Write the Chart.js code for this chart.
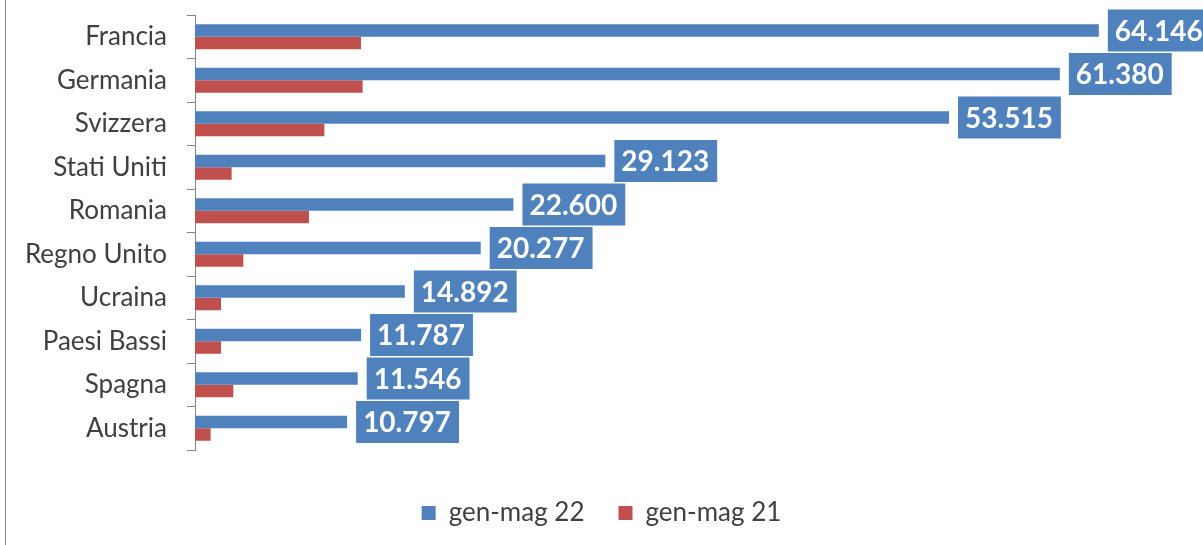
<!DOCTYPE html>
<html>
<head>
<meta charset="utf-8">
<script src="https://cdn.jsdelivr.net/npm/chart.js@4"></script>
<style>
  html, body { margin: 0; padding: 0; background: #fff; }
  #wrap { position: relative; width: 1203px; height: 545px; }
  #edge { position: absolute; left: 5px; top: 0; width: 1px; height: 545px; background: #8c8c8c; }
</style>
</head>
<body>
<div id="wrap">
  <canvas id="chartPaesi" width="1203" height="545"></canvas>
  <div id="edge"></div>
</div>
<script>
// ===== DATA =====
const countries = ['Francia', 'Germania', 'Svizzera', 'Stati Uniti', 'Romania', 'Regno Unito', 'Ucraina', 'Paesi Bassi', 'Spagna', 'Austria'];
const genMag22 = [64146, 61380, 53515, 29123, 22600, 20277, 14892, 11787, 11546, 10797];
const genMag21 = [11780, 11900, 9180, 2600, 8090, 3430, 1850, 1850, 2720, 1110];
const seriesNames = ['gen-mag 22', 'gen-mag 21'];

const BLUE = '#4F81BD';
const RED = '#C0504D';

function formatIt(v) {
  return String(v).replace(/\B(?=(\d{3})+(?!\d))/g, '.');
}

// value boxes on the blue bars
const valueBoxes = {
  id: 'valueBoxes',
  afterDatasetsDraw(chart) {
    const ctx = chart.ctx;
    const meta = chart.getDatasetMeta(0);
    ctx.save();
    ctx.font = 'bold 28px Lato';
    ctx.textBaseline = 'middle';
    ctx.textAlign = 'left';
    meta.data.forEach((bar, i) => {
      const txt = formatIt(genMag22[i]);
      const w = ctx.measureText(txt).width + 15;
      const h = 42;
      const x = bar.x + 9;
      const y = bar.y - h / 2;
      ctx.fillStyle = BLUE;
      ctx.fillRect(x, y, w, h);
      ctx.fillStyle = '#ffffff';
      ctx.fillText(txt, x + 7, bar.y + 1);
    });
    ctx.restore();
  }
};

new Chart(document.getElementById('chartPaesi'), {
  type: 'bar',
  data: {
    labels: countries,
    datasets: [
      { label: seriesNames[0], data: genMag22, backgroundColor: BLUE, categoryPercentage: 0.575, barPercentage: 1 },
      { label: seriesNames[1], data: genMag21, backgroundColor: RED, categoryPercentage: 0.575, barPercentage: 1 },
    ]
  },
  options: {
    responsive: false,
    animation: false,
    indexAxis: 'y',
    layout: { padding: { top: 15, bottom: 9, left: 0, right: 0 } },
    plugins: {
      legend: {
        position: 'bottom',
        labels: { font: { family: 'Lato', size: 26 }, color: '#404040', boxWidth: 14, boxHeight: 14, padding: 34 }
      },
      tooltip: { enabled: false }
    },
    scales: {
      x: {
        min: 0, max: 71540,
        ticks: { display: false },
        grid: { display: false },
        border: { display: false },
        afterFit(scale) { scale.height = 16; }
      },
      y: {
        ticks: { font: { family: 'Lato', size: 26 }, color: '#404040', padding: 20 },
        grid: { drawOnChartArea: false, drawTicks: true, tickLength: 8, color: '#868686', offset: true },
        border: { color: '#868686', width: 1 },
        afterFit(scale) {
          scale.width = 195;
          scale.paddingTop = 0;
          scale.paddingBottom = 0;
        }
      }
    }
  },
  plugins: [valueBoxes]
});
</script>
</body>
</html>
